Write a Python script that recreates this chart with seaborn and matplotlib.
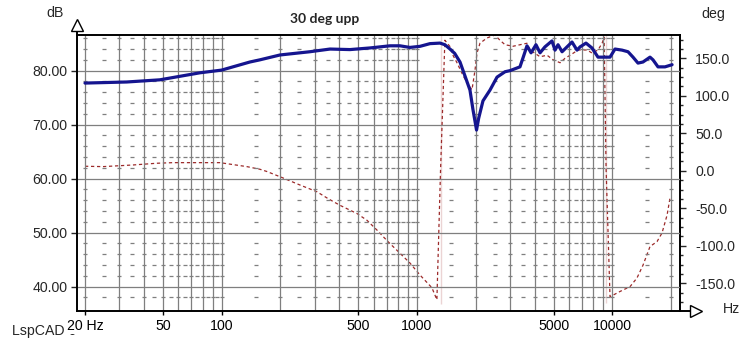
import matplotlib
matplotlib.use("Agg")
import numpy as np
import pandas as pd
import matplotlib.pyplot as plt
from matplotlib.lines import Line2D
from matplotlib.ticker import FixedLocator, FuncFormatter, NullLocator
import seaborn as sns

# ---- measured data -------------------------------------------------------
spl_freq = [20, 32.7, 48.3, 77.4, 100, 139.6, 157, 199, 283, 359, 454, 574,
            728, 818, 920, 1036, 1166, 1312, 1390, 1476, 1560, 1661, 1762,
            1868, 1935, 1985, 2018, 2070, 2177, 2365, 2570, 2825, 2993, 3367,
            3500, 3658, 3837, 4066, 4266, 4519, 4909, 5090, 5273, 5530, 5864,
            6218, 6596, 6838, 7331, 7866, 8446, 8959, 9730, 10320, 11210,
            12030, 12760, 13530, 14350, 15590, 16150, 17130, 18600, 20220]
spl_db = [77.7, 77.9, 78.3, 79.6, 80.1, 81.6, 82.0, 82.9, 83.5, 84.0, 83.9,
          84.2, 84.6, 84.6, 84.3, 84.5, 85.0, 85.1, 84.8, 84.0, 83.2, 81.6,
          79.0, 76.4, 72.8, 70.5, 69.0, 71.2, 74.4, 76.4, 78.8, 79.8, 80.0,
          80.7, 82.5, 84.6, 83.3, 84.8, 83.3, 84.4, 85.5, 83.8, 84.8, 83.5,
          84.4, 85.3, 83.8, 84.4, 85.1, 84.2, 82.5, 82.5, 82.5, 84.0, 83.8,
          83.5, 82.5, 81.4, 81.6, 82.5, 82.0, 80.7, 80.7, 81.1]

phase_freq = [20, 24.7, 35.2, 46.6, 56.3, 77.4, 98, 134.8, 157, 170.6, 203.6,
              251.8, 307.6, 350, 403, 493, 554.6, 623.7, 710.8, 818.6, 920.6,
              1036, 1193, 1265, 1321, 1321, 1390, 1476, 1529, 1603, 1700, 1803,
              1913, 1982, 2029, 2102, 2281, 2506, 2660, 2825, 3105, 3367, 3658,
              3791, 4266, 4634, 4973, 5404, 5730, 6078, 6677, 7424, 7870, 8446,
              8866, 9078, 9290, 9290, 9730, 10940, 12320, 13370, 14350, 15590,
              16930, 17960, 19070, 19740]
phase_deg = [6, 5.5, 7.7, 10, 10.8, 10.8, 10.8, 5.5, 2, -1, -9, -19, -28, -37,
             -46, -57, -66, -79, -94.5, -110, -123, -139, -156, -172, -178,
             182, 174, 165.6, 154, 144, 130, 117, 108, 134, 157, 170, 177, 181,
             174, 168, 166, 168, 170, 161, 152, 154, 148, 144, 150, 154, 161,
             161, 157, 161, 170, 178, 182, -176, -168, -161, -154.5, -143,
             -126, -101, -94.5, -83, -59, -36]

x_tick_values = [20, 50, 100, 500, 1000, 5000, 10000]
x_tick_labels = ["20 Hz", "50", "100", "500", "1000", "5000", "10000"]
db_ticks = [40, 50, 60, 70, 80]
deg_ticks = [-150, -100, -50, 0, 50, 100, 150]
chart_title = "30 deg upp"

spl = pd.DataFrame({"freq": spl_freq, "db": spl_db})
phase = pd.DataFrame({"freq": phase_freq, "deg": phase_deg})

# ---- figure ---------------------------------------------------------------
W, H = 753, 341
sns.set_style("white")
plt.rcParams["font.family"] = ["Liberation Sans", "DejaVu Sans"]

fig = plt.figure(figsize=(W / 100, H / 100), dpi=100)
L, R, T, B = 77, 680, 35, 311
ax = fig.add_axes([L / W, 1 - B / H, (R - L) / W, (B - T) / H])
ax.set_xscale("log")
ax.set_xlim(18.2, 22200)
ax.set_ylim(35.5, 86.6)

GRID = "#7f7f7f"
# vertical grid: 1-2-3-...-9 per decade from 20 Hz to 20 kHz
grid_freqs = [m * 10 ** d for d in range(1, 5) for m in range(1, 10)]
grid_freqs = [f for f in grid_freqs if 20 <= f <= 20000]
for f in grid_freqs:
    ax.axvline(f, color=GRID, lw=0.9, zorder=0)
for v in db_ticks:
    ax.axhline(v, color=GRID, lw=0.9, zorder=0)

# short dash marks on the 2 dB sub-levels, at each grid line and halfway between
dash_x = list(grid_freqs) + [(a + b) / 2 for a, b in zip(grid_freqs[:-1], grid_freqs[1:])]
sub_levels = [v for v in range(38, 87, 2) if v % 10 != 0]
for lv in sub_levels:
    ax.plot(dash_x, [lv] * len(dash_x), ls="none", marker="_", ms=3.2,
            mew=0.9, color=GRID, zorder=0)

# SPL curve
sns.lineplot(data=spl, x="freq", y="db", ax=ax, color="#15158f", lw=2.3,
             sort=False, zorder=3)

# phase on the right axis
ax2 = ax.twinx()
ax2.set_ylim(-187, 181)
sns.lineplot(data=phase, x="freq", y="deg", ax=ax2, color="#9c2a2a", lw=0.9,
             linestyle=(0, (2.6, 2.2)), sort=False, zorder=2)
ax.set_zorder(ax2.get_zorder() + 1)
ax.patch.set_visible(False)

# axes, ticks, labels
ax.set_xlabel("")
ax.set_ylabel("")
ax2.set_ylabel("")
ax.xaxis.set_major_locator(FixedLocator(x_tick_values))
ax.xaxis.set_minor_locator(NullLocator())
ax.set_xticklabels(x_tick_labels)
ax.set_yticks(db_ticks)
ax.yaxis.set_major_formatter(FuncFormatter(lambda v, p: f"{v:.2f}"))
ax.tick_params(axis="x", direction="out", length=3, width=1, pad=3,
               labelsize=10.2, bottom=True, colors="black")
ax.tick_params(axis="y", direction="out", length=4, width=1, pad=3,
               labelsize=10.2, left=True)
for lbl in ax.get_xticklabels():
    lbl.set_bbox(dict(facecolor="white", edgecolor="none", pad=0.5))

ax2.set_yticks(deg_ticks)
ax2.yaxis.set_minor_locator(FixedLocator(np.arange(-187.5, 181, 12.5)))
ax2.yaxis.set_major_formatter(FuncFormatter(lambda v, p: f"{v:.1f}"))
ax2.tick_params(axis="y", which="major", direction="out", length=4, width=1,
                pad=7, labelsize=10.2, right=True)
ax2.tick_params(axis="y", which="minor", direction="out", length=2.5, width=1,
                right=True)

for a in (ax, ax2):
    for s in a.spines.values():
        s.set_color("black")
        s.set_linewidth(1.4)
ax2.spines["left"].set_visible(False)
ax2.spines["bottom"].set_visible(False)
ax2.spines["top"].set_visible(False)
ax.spines["right"].set_visible(False)


def px(x, y):
    return x / W, 1 - y / H


# axis arrows
x0, y0 = px(L, T)
x1, y1 = px(L, 27)
fig.add_artist(Line2D([x0, x1], [y0, y1], transform=fig.transFigure,
                      color="black", lw=1.4))
ax_, ay_ = px(L, 25)
fig.add_artist(Line2D([ax_], [ay_], transform=fig.transFigure, marker="^",
                      ms=8, mfc="white", mec="black", mew=1.0, ls="none"))
x0, y0 = px(R, B)
x1, y1 = px(692, B)
fig.add_artist(Line2D([x0, x1], [y0, y1], transform=fig.transFigure,
                      color="black", lw=1.4))
ax_, ay_ = px(696, B - 0.5)
fig.add_artist(Line2D([ax_], [ay_], transform=fig.transFigure, marker=">",
                      ms=8, mfc="white", mec="black", mew=1.0, ls="none"))

# labels around the plot
fig.text(*px(55, 13), "dB", ha="center", va="center", fontsize=10.2)
fig.text(*px(713, 14), "deg", ha="center", va="center", fontsize=10.2)
fig.text(*px(731, 309), "Hz", ha="center", va="center", fontsize=10.2)
fig.text(*px(325, 19), chart_title, ha="center", va="center", fontsize=10,
         fontweight="bold", family=["Lato", "DejaVu Sans"])
fig.text(*px(12, 331), "LspCAD 6", ha="left", va="center", fontsize=10.2,
         zorder=-1)

fig.savefig("out.png", dpi=100)
